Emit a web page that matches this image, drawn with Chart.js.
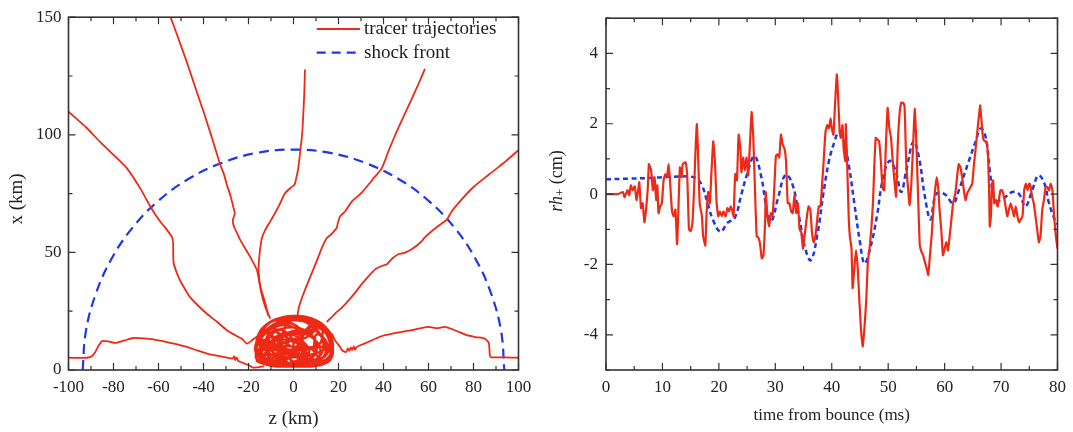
<!DOCTYPE html>
<html>
<head>
<meta charset="utf-8">
<script src="https://cdn.jsdelivr.net/npm/chart.js@4.4.1/dist/chart.umd.min.js"></script>
<style>
  body { margin: 0; background: #fff; }
  #wrap { position: relative; width: 1073px; height: 432px; }
  #left { position: absolute; left: 0; top: 0; width: 545px; height: 432px; }
  #right { position: absolute; left: 545px; top: 0; width: 528px; height: 432px; }
</style>
</head>
<body>
<div id="wrap">
  <canvas id="left" width="545" height="432"></canvas>
  <canvas id="right" width="528" height="432"></canvas>
</div>
<script>
// ---- left panel: tracer paths, [z, x] in km ----
var trajFarLeft = [[-100,109.8],[-92,103],[-86,97],[-80,91.5],[-74,85.7],[-68,77],[-63.6,69.5],[-61.4,66],[-58.5,62.2],[-56.3,59.7],[-54,56.5],[-53.5,54],[-53.3,45.7],[-51,39.3],[-48,34],[-45.9,30.9],[-42,27],[-38.5,23.9],[-34,20.5],[-29.6,16.9],[-25,14.3],[-22.9,13.3],[-20.7,11.2],[-18.5,12.6],[-15.5,14.8]];
var trajTopLeft = [[-54.8,150.5],[-51,140.5],[-47.3,130.6],[-43.6,120],[-39.9,109.6],[-36,98],[-32.5,87.1],[-31,83.5],[-29.6,78.7],[-28,74],[-26.6,68.8],[-26.1,66.5],[-27,63.5],[-26.4,60.9],[-25,58],[-23.7,55.3],[-21.5,51.7],[-19.3,48.2],[-16.3,42.6],[-14.8,35.6],[-12.6,28.6],[-11.1,22.9]];
var trajCenter = [[5.1,127.8],[4.8,118],[4.4,109.6],[3.9,101],[3.3,95.5],[2.1,85.7],[0.7,79.4],[0.3,78.6],[-1.2,77.5],[-3.8,75.1],[-6.5,69.8],[-10.3,63.2],[-12.6,59.5],[-14,56.2],[-15.1,49.2],[-15.5,42.2],[-14.5,33.7],[-12.5,26.7],[-10.3,21.8]];
var trajTopRight = [[58.4,128],[55.5,121.5],[52.5,115.2],[48.8,107.5],[45.1,99.7],[42,92.5],[39.2,85.7],[36.2,82.2],[30.3,75.4],[25.9,71.6],[22.9,67.4],[20.7,65.3],[19.6,62],[19.2,60.4],[16.5,57.5],[14.8,56.1],[12.6,51.9],[10.3,46.3],[7.3,39.3],[4.4,32.3],[2.4,26.7],[1.8,23.2]];
var trajFarRight = [[100,93.5],[94,88.5],[87,83.2],[80,77.8],[73.5,71.2],[70.3,67.4],[68.1,63.9],[64.5,61.3],[61.4,59],[58.5,56.5],[56.3,54.1],[52.5,51.3],[49.6,49.9],[46.6,49.2],[44,47.5],[41.5,45],[39.2,44.2],[36.3,42.8],[33,39.5],[30.3,36.5],[27.5,33],[24.4,29.5],[21.5,26.5],[18.4,23.9],[14.8,20.4]];
var trajLowRight = [[100,5.2],[94,5.4],[88,5.4],[87.3,6],[86.8,11.5],[85.1,13.3],[81,14],[77,14.8],[72,16.8],[67.3,18.3],[64,17.8],[59.9,18.3],[55.5,17.6],[52,16.8],[48.1,16.2],[44,15.5],[40.7,14.8],[37.5,13.8],[34.8,12.6],[31.5,11.2],[28.1,9.8],[27.4,8.6],[26.8,10],[26.1,8.5],[25.5,9.6],[24.8,8.1],[24.2,9.2],[23.5,7.8],[22.9,7.7],[21.5,8.5],[20.7,9.8],[18.5,12.6],[17,15.5]];
var trajLowLeft = [[-100,5.2],[-92,5.2],[-90,5.6],[-88.1,7.7],[-86.5,10.5],[-85.1,12.3],[-82,12.1],[-79.2,11.5],[-75,12.6],[-71.1,13.6],[-65.1,13.3],[-60,12.6],[-56.3,11.9],[-52,11],[-47.4,9.8],[-43,8.4],[-38.5,7],[-34,6.1],[-29.6,5.3],[-27,4.9],[-26.4,5.8],[-25.9,4.2],[-25.3,5.4],[-24.6,3.9],[-23.7,3.5],[-22,2.8],[-20,2.1],[-18,1],[-16.3,1.1],[-13,1.6]];
// tangle of loops near the centre
var knot = [[-17,10],[-14.5,17],[-8,21.5],[0,23],[8,22],[14.5,18],[17.5,11],[15.5,5],[9,2],[0,1.5],[-9,2],[-15,5],[-17,10],
  [-13,12],[-9,19],[-1,21.5],[7,19.5],[12.5,14],[12.5,7],[6,3],[-3,3],[-10,5],[-13,12],
  [-15.5,8],[-10,15],[-3,18],[5,17],[10,12],[9,6],[2,3],[-7,3],[-13,5],[-15.5,8],
  [-6,14],[-2,21],[5,22.5],[11.5,19],[16,12],[14,6],[7,4],[0,6],[-5,10],[-6,14],
  [-16.5,6],[-12,11],[-5,13],[2,11],[4,6],[0,2.5],[-8,2],[-14,3],[-16.5,6],
  [2,8],[4,15],[9,19.5],[15,16],[17,9],[14,3],[7,2],[3,4],[2,8],
  [-11,16],[-6,20],[1,19],[4,14],[0,9],[-6,8],[-10,11],[-11,16],
  [-4,4],[-6,11],[-2,16],[6,16],[10,11],[8,5],[2,2],[-4,4],
  [-14,13],[-12,19],[-4,22],[4,22],[10,19],[6,14],[-3,12],[-10,10],[-14,13],
  [5,6],[3,12],[7,17],[12,15],[14.5,9],[12,4],[8,3],[5,6],
  [-9,6],[-12,12],[-8,17],[-2,15],[0,10],[-3,5],[-9,6],
  [-2,3],[6,6],[14,9],[17,14],[12,19.5],[3,21.5],[-6,19.5],[-13,15],[-16.5,10],[-14.5,5],[-8,2.5],[-2,3],
  [-10,3],[-16,7],[-15,13],[-9,18],[-2,19],[3,15],[1,8],[-4,4],[-10,3],
  [10,3],[16,6],[17,12],[13,17],[7,18],[4,13],[6,7],[10,3],
  [-16,4],[-10,1.8],[0,1.5],[10,1.8],[16,4],[17.5,9],[15,15],[8,20],[-2,21],[-11,18],[-16,12],[-16,4],
  [-12,8],[-8,14],[0,16],[8,14],[12,8],[8,3],[0,2],[-8,3],[-12,8],
  [-7,10],[-4,15],[2,14],[5,10],[2,6],[-4,6],[-7,10],
  [10,10],[13,16],[10,21],[3,22.5],[-5,21],[-12,17],[-15,10],[-12,4],[-4,2],[6,2.5],[13,5],[16,10],
  [-3,8],[-1,13],[4,12],[7,8],[4,4],[-1,4],[-3,8],
  [-14,9],[-11,14],[-7,12],[-8,6],[-12,5],[-14,9],
  [8,9],[10,15],[14,13],[15,8],[12,5],[8,9],
  [-8,17],[-3,22],[4,22.5],[9,20],[7,16],[0,15],[-6,15],[-8,17]];
var shockFront = [[-93.7,0],[-92.3,16.3],[-88,32],[-81.1,46.9],[-71.8,60.2],[-60.2,71.8],[-46.9,81.1],[-32,88],[-16.3,92.3],[0,93.7],[16.3,92.3],[32,88],[46.9,81.1],[60.2,71.8],[71.8,60.2],[81.1,46.9],[88,32],[92.3,16.3],[93.7,0]];

// ---- right panel: r h+ vs time ----
var redT = [0,2.1,3.0,3.3,3.8,4.1,4.4,4.7,5.1,5.4,5.7,5.9,6.2,6.5,6.8,7.1,7.4,7.6,8.0,8.3,8.6,8.9,9.1,9.3,9.6,9.9,10.2,10.5,10.8,11.1,11.3,11.7,12.0,12.3,12.6,12.9,13.1,13.4,13.6,14.1,14.4,14.7,15.0,15.3,15.6,15.9,16.1,16.3,16.6,17.0,17.2,17.6,17.8,18.1,18.4,18.7,19.0,19.3,19.6,19.9,20.2,20.5,20.8,21.2,21.5,21.8,22.1,22.4,22.6,22.9,23.2,23.5,23.8,24.0,24.3,24.6,24.9,25.2,25.5,25.8,26.1,26.4,26.7,27.0,27.3,27.6,27.9,28.2,28.3,28.6,28.9,29.2,29.5,29.8,30.1,30.4,30.7,31.0,31.3,31.6,31.9,32.2,32.5,32.8,33.1,33.4,33.7,34.0,34.3,34.6,34.9,35.2,35.6,35.9,36.2,36.5,36.8,37.1,37.4,37.7,38.0,38.3,38.6,38.9,39.2,39.5,39.8,40.0,40.3,40.6,40.9,41.1,41.4,41.6,41.9,42.1,42.4,42.5,42.8,43.0,43.2,43.5,43.7,44.0,44.3,44.6,44.9,45.2,45.5,45.8,46.1,46.4,46.7,47.0,47.3,47.6,47.8,48.1,48.4,48.7,49.0,49.3,49.6,49.9,50.2,50.5,50.8,51.1,51.4,51.7,52.0,52.3,52.6,52.9,53.2,53.5,53.8,54.1,54.4,54.7,55.0,55.3,55.6,55.9,56.2,56.5,56.8,57.1,57.4,57.7,58.0,58.3,58.6,58.9,59.1,59.4,59.7,60.0,60.3,60.6,60.9,61.2,61.5,61.9,62.2,62.5,62.8,63.1,63.4,63.7,64.0,64.3,64.6,64.9,65.2,65.5,65.8,66.1,66.3,66.5,66.8,67.1,67.4,67.7,67.9,68.0,68.2,68.4,68.6,68.8,69.1,69.4,69.7,69.9,70.2,70.5,70.8,71.1,71.4,71.7,72.0,72.3,72.6,72.9,73.2,73.5,73.8,74.1,74.4,74.7,75.0,75.2,75.5,75.8,76.1,76.4,76.7,77.0,77.3,77.6,77.9,78.2,78.5,78.8,79.1,79.4,79.7,80.0];
var redV = [0,0,0.06,-0.09,0.11,-0.03,0.25,0.11,0.22,-0.17,0.11,0.34,-0.4,-0.26,-0.8,-0.44,0.16,0.85,0.67,0.11,0.48,-0.17,0.25,-0.54,-0.35,-0.26,0.39,0.56,0.48,0.85,0.48,-0.49,-0.63,-0.44,-1.42,-0.07,0.76,0.48,0.85,0.9,0.48,-1.0,-1.05,-0.86,0.11,1.41,1.99,1.22,-0.26,-0.63,-1.18,-1.46,-0.63,0.06,-0.26,0.67,1.5,0.94,-0.26,-0.63,-0.49,-0.63,-0.49,-0.63,-0.4,-0.49,-0.35,-0.49,-0.63,0.57,0.39,1.69,1.31,0.62,1.04,0.67,1.04,0.53,1.41,2.33,1.6,0.11,-1.2,-1.23,-1.42,-1.83,-1.74,-0.72,0.06,-0.63,-0.91,-0.54,-0.63,0.11,1.08,1.13,1.04,1.69,1.41,1.31,0.94,-0.26,-0.26,-0.49,-0.54,0.0,-0.54,-0.26,-1.0,-1.09,-1.55,-1.18,-0.63,-0.35,-0.44,-1.09,-1.37,-1.18,-0.77,-0.35,-0.35,0.3,1.04,1.78,1.96,1.87,2.15,1.87,1.69,2.6,3.4,2.89,1.78,1.6,1.96,1.31,0.94,1.99,0.48,-0.63,-1.18,-1.55,-2.67,-2.1,-1.6,-2.1,-3.05,-3.89,-4.33,-3.78,-3.05,-1.93,-1.55,-1.0,-0.26,1.04,1.6,1.55,1.5,0.94,0.16,0.11,1.41,2.45,1.87,1.6,0.94,0.39,-0.07,1.41,2.25,2.6,2.6,2.5,0.85,0.2,-0.31,0.3,1.31,2.42,1.41,-0.07,-1.46,-1.64,-1.74,-1.93,-2.1,-2.3,-1.74,-1.18,-0.44,0.11,0.48,0.11,-0.44,-1.0,-1.74,-1.55,-1.37,-1.6,-1.18,-0.72,-0.26,0.02,0.48,0.85,0.76,0.48,0.11,-0.17,0.02,0.11,0.2,0.3,0.85,1.3,1.78,2.25,2.52,2.15,1.6,1.5,1.5,1.04,-0.07,-0.92,-0.63,0.3,0.39,-0.26,-0.17,-0.35,-0.07,0.11,0.11,-0.07,-0.35,-0.63,-0.44,-0.26,-0.44,-0.63,-0.35,-0.63,-0.8,-0.72,-0.63,0.11,0.3,0.11,0.3,0.25,-0.07,-0.26,-0.63,-1.0,-1.37,-1.18,-0.44,-0.17,0.2,0.2,0.11,0.3,0.11,-0.63,-1.18,-1.55];
var blueT = [0,4,8,11,13,14.5,16,17,18,19,20.3,21.5,22.8,24,25,26.3,27.5,28.5,29.3,30.5,31.8,33,34.2,35.3,36.3,37.5,38.5,39.5,40.5,41.2,42,43,44,45,45.8,46.8,48,49,50.2,51.3,52.3,53.2,54.5,55.5,56.5,57.5,58.5,60,61.5,62.5,63.5,64.5,65.5,66.4,67.3,68,68.7,69.3,70.5,72,73.2,74.3,75.5,76.6,77.6,78.5,79.5,80];
var blueV = [0.42,0.44,0.46,0.49,0.5,0.5,0.45,0.25,-0.26,-0.75,-1.07,-0.82,-0.68,0,0.57,1.08,0.5,-0.45,-0.77,-0.1,0.55,0.3,-0.63,-1.55,-1.88,-1.1,0,0.94,1.5,1.75,1.6,0.85,-0.26,-1.37,-1.97,-1.55,-0.63,0.39,0.94,0.67,0.06,0.67,1.5,1.0,-0.07,-0.72,0,0,-0.26,0.1,0.57,1.04,1.5,1.87,1.6,0.67,-0.07,-0.2,-0.12,0.06,0,-0.35,0.1,0.53,0.34,-0.26,-0.72,-0.86];

var RED = 'rgb(238,42,22)';
var BLUE = 'rgb(30,55,235)';
var SERIF = '"Liberation Serif", "DejaVu Serif", serif';
var INK = '#222';

function toXY(pairs) {
  return pairs.map(function (p) { return { x: p[0], y: p[1] }; });
}
function zipXY(xs, ys) {
  return xs.map(function (v, i) { return { x: v, y: ys[i] }; });
}

// frame + inward ticks on all four sides
var frameTicks = {
  id: 'frameTicks',
  afterDatasetsDraw: function (chart, args, opts) {
    var ctx = chart.ctx, a = chart.chartArea;
    var sx = chart.scales.x, sy = chart.scales.y;
    ctx.save();
    ctx.strokeStyle = '#333';
    ctx.lineWidth = 1.2;
    ctx.beginPath();
    sx.ticks.forEach(function (t) {
      var px = sx.getPixelForValue(t.value);
      var len = (t.value % opts.xMajor === 0) ? 7 : 4;
      ctx.moveTo(px, a.bottom); ctx.lineTo(px, a.bottom - len);
      ctx.moveTo(px, a.top); ctx.lineTo(px, a.top + len);
    });
    sy.ticks.forEach(function (t) {
      var py = sy.getPixelForValue(t.value);
      var len = (t.value % opts.yMajor === 0) ? 7 : 4;
      ctx.moveTo(a.left, py); ctx.lineTo(a.left + len, py);
      ctx.moveTo(a.right, py); ctx.lineTo(a.right - len, py);
    });
    ctx.stroke();
    ctx.lineWidth = 1.6;
    ctx.strokeRect(a.left, a.top, a.right - a.left, a.bottom - a.top);
    ctx.restore();
  }
};

// rotated y title, built from parts so italics / subscripts work
var yTitle = {
  id: 'yTitle',
  afterDraw: function (chart, args, opts) {
    var ctx = chart.ctx;
    ctx.save();
    ctx.translate(opts.cx, opts.cy);
    ctx.rotate(-Math.PI / 2);
    ctx.fillStyle = INK;
    ctx.textBaseline = 'middle';
    var total = 0;
    opts.parts.forEach(function (p) { ctx.font = p.font; total += ctx.measureText(p.text).width; });
    var x = -total / 2;
    opts.parts.forEach(function (p) {
      ctx.font = p.font;
      ctx.fillText(p.text, x, p.dy || 0);
      x += ctx.measureText(p.text).width;
    });
    ctx.restore();
  }
};

// legend inside the left plot
var boxLegend = {
  id: 'boxLegend',
  afterDraw: function (chart, args, opts) {
    var ctx = chart.ctx;
    ctx.save();
    ctx.font = '19px ' + SERIF;
    ctx.textBaseline = 'middle';
    opts.items.forEach(function (it) {
      ctx.strokeStyle = it.color;
      ctx.lineWidth = it.width;
      ctx.setLineDash(it.dash);
      ctx.beginPath();
      ctx.moveTo(opts.x0, it.y); ctx.lineTo(opts.x1, it.y);
      ctx.stroke();
      ctx.setLineDash([]);
      ctx.fillStyle = INK;
      ctx.fillText(it.label, opts.x1 + 4, it.y);
    });
    ctx.restore();
  }
};

function trajSet(pairs, w) {
  return {
    data: toXY(pairs), showLine: true, borderColor: RED, borderWidth: w || 1.8,
    pointRadius: 0, tension: 0.2, fill: false
  };
}

var leftDatasets = [
  trajSet(trajFarLeft), trajSet(trajTopLeft), trajSet(trajCenter), trajSet(trajTopRight),
  trajSet(trajFarRight), trajSet(trajLowRight), trajSet(trajLowLeft),
  Object.assign(trajSet(knot, 2.4), { tension: 0.4 }),
  {
    data: toXY(shockFront), showLine: true, borderColor: BLUE, borderWidth: 2.2,
    borderDash: [10, 6], pointRadius: 0, tension: 0.4, fill: false
  }
];

new Chart(document.getElementById('left'), {
  type: 'scatter',
  data: { datasets: leftDatasets },
  plugins: [frameTicks, yTitle, boxLegend],
  options: {
    responsive: false,
    animation: false,
    layout: { padding: { top: 13, right: 26.5, left: 0, bottom: 0 } },
    scales: {
      x: {
        type: 'linear', min: -100, max: 100,
        grid: { display: false, drawTicks: false },
        border: { display: false },
        ticks: {
          stepSize: 10, autoSkip: false, maxRotation: 0, padding: 7, color: INK,
          font: { family: SERIF, size: 17 },
          callback: function (v) { return v % 20 === 0 ? String(v) : ''; }
        },
        title: { display: true, text: 'z (km)', color: INK, font: { family: SERIF, size: 19 }, padding: { top: 0, bottom: 2 } },
        afterFit: function (s) { s.height = 62; }
      },
      y: {
        type: 'linear', min: 0, max: 150,
        grid: { display: false, drawTicks: false },
        border: { display: false },
        ticks: {
          stepSize: 25, autoSkip: false, padding: 7, color: INK,
          font: { family: SERIF, size: 17 },
          callback: function (v) { return v % 50 === 0 ? String(v) : ''; }
        },
        afterFit: function (s) { s.width = 68.5; }
      }
    },
    plugins: {
      legend: { display: false },
      tooltip: { enabled: false },
      frameTicks: { xMajor: 20, yMajor: 50 },
      yTitle: { cx: 17.3, cy: 199, parts: [{ text: 'x (km)', font: '19px ' + SERIF }] },
      boxLegend: {
        x0: 316.7, x1: 360,
        items: [
          { label: 'tracer trajectories', color: RED, width: 2, dash: [], y: 29 },
          { label: 'shock front', color: BLUE, width: 2.2, dash: [9, 6], y: 52.7 }
        ]
      }
    }
  }
});

new Chart(document.getElementById('right'), {
  type: 'scatter',
  data: {
    datasets: [
      {
        data: zipXY(redT, redV), showLine: true, borderColor: RED, borderWidth: 2.2,
        pointRadius: 0, tension: 0.15, fill: false
      },
      {
        data: zipXY(blueT, blueV), showLine: true, borderColor: BLUE, borderWidth: 2.5,
        borderDash: [5, 3.5], pointRadius: 0, tension: 0.4, fill: false
      }
    ]
  },
  plugins: [frameTicks, yTitle],
  options: {
    responsive: false,
    animation: false,
    layout: { padding: { top: 10.5, right: 15, left: 0, bottom: 0 } },
    scales: {
      x: {
        type: 'linear', min: 0, max: 80,
        grid: { display: false, drawTicks: false },
        border: { display: false },
        ticks: {
          stepSize: 5, autoSkip: false, maxRotation: 0, padding: 7, color: INK,
          font: { family: SERIF, size: 17 },
          callback: function (v) { return v % 10 === 0 ? String(v) : ''; }
        },
        title: { display: true, text: 'time from bounce (ms)', color: INK, font: { family: SERIF, size: 17 }, padding: { top: 0, bottom: 6 } },
        afterFit: function (s) { s.height = 62; }
      },
      y: {
        type: 'linear', min: -5, max: 5,
        grid: { display: false, drawTicks: false },
        border: { display: false },
        ticks: {
          stepSize: 1, autoSkip: false, padding: 8, color: INK,
          font: { family: SERIF, size: 17 },
          callback: function (v) { return v % 2 === 0 ? String(v) : ''; }
        },
        afterFit: function (s) { s.width = 61; }
      }
    },
    plugins: {
      legend: { display: false },
      tooltip: { enabled: false },
      frameTicks: { xMajor: 10, yMajor: 2 },
      yTitle: {
        cx: 12, cy: 181,
        parts: [
          { text: 'rh', font: 'italic 18px ' + SERIF },
          { text: '+', font: '13px ' + SERIF, dy: 4 },
          { text: ' (cm)', font: '18px ' + SERIF }
        ]
      }
    }
  }
});
</script>
</body>
</html>
